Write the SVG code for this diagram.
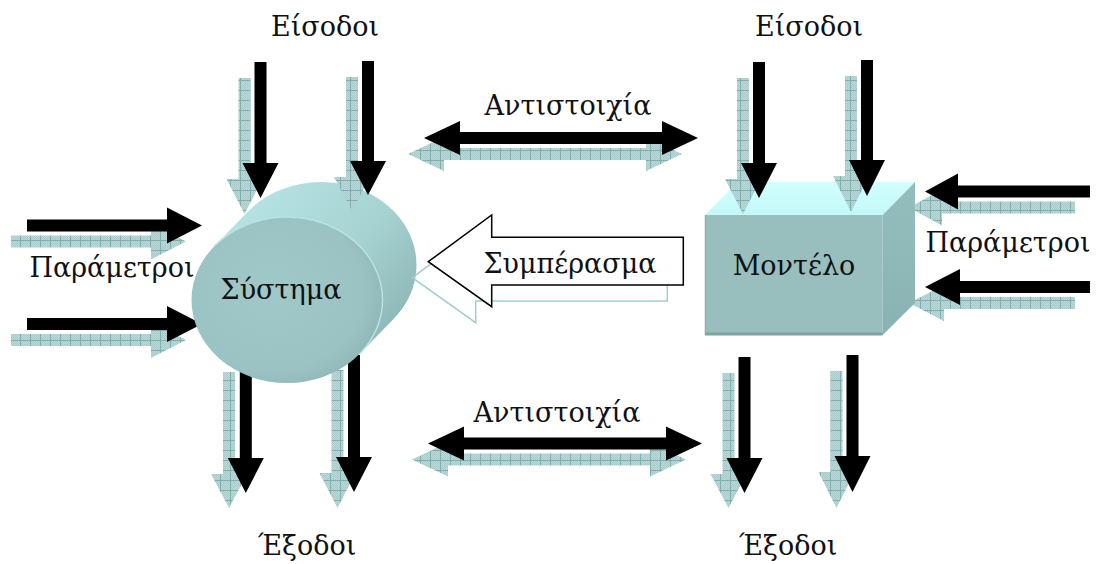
<svg xmlns="http://www.w3.org/2000/svg" width="1100" height="564" viewBox="0 0 1100 564">
  <style>
    .lbl { font-family: "DejaVu Serif", "Liberation Serif", serif; font-size: 27px; fill: #111; text-anchor: middle; }
    .blk { fill: #000; }
    .shd { fill: url(#grid); }
  </style>
  <defs>
    <!-- hatched teal fill used for the arrow shadows -->
    <pattern id="grain" width="2" height="2" patternUnits="userSpaceOnUse">
      <rect width="2" height="2" fill="#bcd8d8"/>
      <rect width="1" height="1" fill="#a9caca"/>
      <rect x="1" y="1" width="1" height="1" fill="#a9caca"/>
    </pattern>
    <pattern id="grid" width="10" height="10" patternUnits="userSpaceOnUse">
      <rect width="10" height="10" fill="url(#grain)"/>
      <path d="M0 0.5 H10 M0.5 0 V10" stroke="#7fb0b0" stroke-width="1" fill="none"/>
    </pattern>
    <linearGradient id="cylBody" gradientUnits="userSpaceOnUse" x1="260" y1="190" x2="415" y2="320">
      <stop offset="0" stop-color="#b5e2e2"/>
      <stop offset="0.55" stop-color="#a6d2d2"/>
      <stop offset="1" stop-color="#8cb4b4"/>
    </linearGradient>
    <radialGradient id="cylFace" cx="0.42" cy="0.45" r="0.6">
      <stop offset="0" stop-color="#a0c8c8"/>
      <stop offset="0.8" stop-color="#9bc3c3"/>
      <stop offset="1" stop-color="#90b8b8"/>
    </radialGradient>
    <linearGradient id="cubeTop" x1="0" y1="1" x2="0" y2="0">
      <stop offset="0" stop-color="#c4f8f8"/>
      <stop offset="1" stop-color="#d0ffff"/>
    </linearGradient>
    <linearGradient id="cubeSide" x1="0" y1="0" x2="0" y2="1">
      <stop offset="0" stop-color="#94bebe"/>
      <stop offset="1" stop-color="#8ab2b2"/>
    </linearGradient>
  </defs>

  <!-- parameter arrows entering the system from the left -->
  <g id="sys-params">
    <path class="shd" d="M11 235.5 H151 V223.5 L186 241.5 L151 259.5 V247.5 H11 Z"/>
    <path class="blk" d="M27 219.5 H167 V207.5 L202 225.5 L167 243.5 V231.5 H27 Z"/>
    <path class="shd" d="M11 334 H151 V322 L186 340 L151 358 V346 H11 Z"/>
    <path class="blk" d="M27 318 H167 V306 L202 324 L167 342 V330 H27 Z"/>
  </g>

  <!-- outputs leaving the system -->
  <g id="sys-outputs">
    <path class="shd" d="M223 372 H235 V474 H247 L229 508 L211 474 H223 Z"/>
    <path class="blk" d="M239.8 355 H251.8 V458 H263.8 L245.8 493 L227.8 458 H239.8 Z"/>
    <path class="shd" d="M331.5 370 H343.5 V473 H355.5 L337.5 508 L319.5 473 H331.5 Z"/>
    <path class="blk" d="M348 355 H360 V457 H372 L354 492 L336 457 H348 Z"/>
  </g>

  <!-- the system: a tilted cylinder -->
  <g id="system">
    <path d="M214 246.5 L248 211.5 A95.5 83 0 0 1 321 182 A95.5 83 0 0 1 394 318.5 L360 353.5 Z" fill="url(#cylBody)"/>
    <ellipse cx="287" cy="300" rx="95.5" ry="83" fill="url(#cylFace)"/>
    <path d="M214 246.5 A95.5 83 0 0 1 287 217 A95.5 83 0 0 1 360 353.5" fill="none" stroke="#b8e3e3" stroke-width="1.5"/>
    <text class="lbl" x="281" y="299">Σύστημα</text>
  </g>

  <!-- inputs to the system -->
  <g id="sys-inputs">
    <path class="shd" d="M238.5 78 H250.5 V179 H262.5 L244.5 214 L226.5 179 H238.5 Z"/>
    <path class="blk" d="M254.5 62 H266.5 V163 H278.5 L260.5 198 L242.5 163 H254.5 Z"/>
    <path class="shd" d="M346 77 H358 V177 H370 L352 211 L334 177 H346 Z"/>
    <path class="blk" d="M362 61 H374 V161 H386 L368 195 L350 161 H362 Z"/>
  </g>

  <!-- parameter arrows entering the model from the right (shadows sit behind the box) -->
  <g id="model-params-shadow">
    <path class="shd" d="M1075 201.5 H942 V189.5 L909 207.5 L942 225.5 V213.5 H1075 Z"/>
    <path class="shd" d="M1075 297 H944 V285 L909 303 L944 321 V309 H1075 Z"/>
  </g>

  <!-- the model: a box -->
  <g id="model">
    <polygon points="705,215 738,182 915,182 882.7,215" fill="url(#cubeTop)"/>
    <polygon points="882.7,215 915,182 915,303 882.7,335" fill="url(#cubeSide)"/>
    <rect x="705" y="215" width="177.7" height="120" fill="#98bebe"/>
    <path d="M705.5 215 V335" stroke="#8db3b3" stroke-width="1.5"/>
    <path d="M705 334 H882.7" stroke="#7fa4a4" stroke-width="3"/>
    <text class="lbl" x="794" y="275">Μοντέλο</text>
  </g>

  <g id="model-params">
    <path class="blk" d="M1090 185.5 H958 V173.5 L925 191.5 L958 209.5 V197.5 H1090 Z"/>
    <path class="blk" d="M1090 281 H960 V269 L925 287 L960 305 V293 H1090 Z"/>
  </g>

  <!-- inputs to the model -->
  <g id="model-inputs">
    <path class="shd" d="M737 78 H749 V179 H761 L743 214 L725 179 H737 Z"/>
    <path class="blk" d="M753 62 H765 V163 H777 L759 198 L741 163 H753 Z"/>
    <path class="shd" d="M845 76 H857 V176 H869 L851 212 L833 176 H845 Z"/>
    <path class="blk" d="M861 60 H873 V160 H885 L867 196 L849 160 H861 Z"/>
  </g>

  <!-- outputs leaving the model -->
  <g id="model-outputs">
    <path class="shd" d="M722.5 373 H734.5 V474 H746.5 L728.5 508 L710.5 474 H722.5 Z"/>
    <path class="blk" d="M738.5 357 H750.5 V458 H762.5 L744.5 493 L726.5 458 H738.5 Z"/>
    <path class="shd" d="M830.5 371 H842.5 V472 H854.5 L836.5 508 L818.5 472 H830.5 Z"/>
    <path class="blk" d="M846.5 355 H858.5 V456 H870.5 L852.5 492 L834.5 456 H846.5 Z"/>
  </g>

  <!-- correspondence arrows between system and model -->
  <g id="connectors">
    <path class="shd" d="M408 154 L444 137 V148 H646 V137 L682 154 L646 171 V160 H444 V171 Z"/>
    <path class="blk" d="M424 138 L460 121 V132 H662 V121 L698 138 L662 155 V144 H460 V155 Z"/>
    <path class="shd" d="M412 459.5 L448 442.5 V453.5 H650 V442.5 L686 459.5 L650 476.5 V465.5 H448 V476.5 Z"/>
    <path class="blk" d="M428 443.5 L464 426.5 V437.5 H666 V426.5 L702 443.5 L666 460.5 V449.5 H464 V460.5 Z"/>
    <!-- conclusion: hollow block arrow from model back to system -->
    <path d="M412.3 277.7 L475.7 231 V253.3 H667.3 V301 H475.7 V322.7 Z" fill="none" stroke="#a4cdcd" stroke-width="1.5"/>
    <path d="M428.3 261.7 L491.7 215 V237.3 H683.3 V285 H491.7 V306.7 Z" fill="#fff" stroke="#000" stroke-width="1.5"/>
  </g>

  <g id="labels">
    <text class="lbl" x="325" y="36">Είσοδοι</text>
    <text class="lbl" x="809" y="36">Είσοδοι</text>
    <text class="lbl" x="568" y="115">Αντιστοιχία</text>
    <text class="lbl" x="570" y="273">Συμπέρασμα</text>
    <text class="lbl" x="112" y="277">Παράμετροι</text>
    <text class="lbl" x="1008" y="252">Παράμετροι</text>
    <text class="lbl" x="557" y="422">Αντιστοιχία</text>
    <text class="lbl" x="307" y="555">Έξοδοι</text>
    <text class="lbl" x="788" y="555">Έξοδοι</text>
  </g>
</svg>
